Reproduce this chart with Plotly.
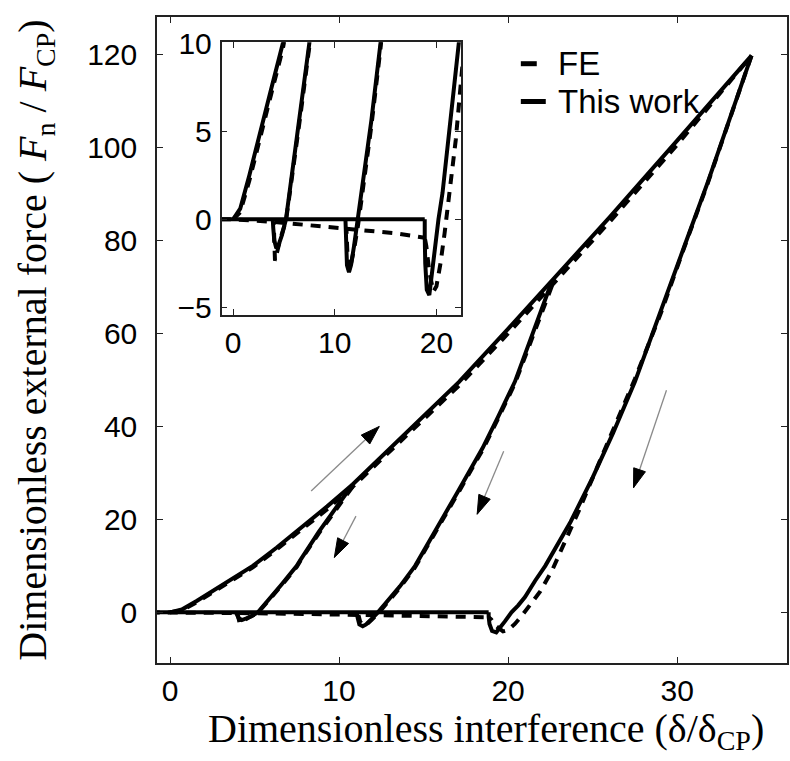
import plotly.graph_objects as go

# ---------------- data ----------------
# "This work" (solid)
tw_base_x = [-1.2, 18.85]
tw_base_y = [0.0, 0.0]
tw_load_x = [0, 0.7, 1.6, 2.6, 3.7, 4.9, 6.3, 7.8, 9.3, 10.8, 13.0, 15.0, 17.1, 20.0, 22.6, 26.0, 30.0, 34.4]
tw_load_y = [0, 0.6, 2.5, 4.7, 7.3, 10.0, 13.9, 18.3, 22.8, 27.5, 35.3, 42.4, 49.6, 61.0, 71.3, 85.0, 101.5, 119.8]
tw_un1_x = [10.8, 9.9, 8.8, 7.7, 7.5, 6.6, 5.9, 5.2, 4.8, 4.45, 4.25, 4.05, 3.95, 3.9]
tw_un1_y = [27.5, 22.9, 17.3, 11.2, 10.0, 6.0, 3.0, 0.0, -0.9, -1.5, -1.65, -1.2, -0.5, 0.0]
tw_un2_x = [22.6, 21.5, 20.4, 19.4, 18.5, 17.0, 15.8, 14.7, 14.5, 13.6, 12.9, 12.3, 11.9, 11.6, 11.4, 11.2, 11.1, 11.05]
tw_un2_y = [71.3, 60.5, 49.6, 42.0, 35.4, 25.8, 18.1, 11.1, 10.0, 5.6, 2.5, 0.0, -1.5, -2.6, -3.0, -2.6, -1.2, 0.0]
tw_un3_x = [34.4, 33.1, 31.8, 30.4, 29.0, 27.5, 26.2, 25.0, 23.7, 22.4, 22.2, 21.6, 21.0, 20.6, 20.2, 19.8, 19.5, 19.3, 19.05, 18.9, 18.85, 18.85]
tw_un3_y = [119.8, 106.2, 92.4, 78.5, 64.3, 49.6, 38.5, 29.0, 19.5, 11.1, 10.0, 6.8, 3.3, 1.5, 0.0, -2.0, -3.6, -4.3, -4.0, -2.5, -1.0, 0.0]

# FE (dashed)
fe_base_x = [-1.2, 0, 4, 8, 12, 16, 18.85]
fe_base_y = [0.0, 0.0, -0.15, -0.35, -0.55, -0.8, -1.05]
fe_load_x = [0, 0.7, 1.6, 2.6, 3.7, 4.9, 6.3, 7.8, 9.3, 10.8, 13.0, 15.0, 17.1, 20.0, 22.6, 26.0, 30.0, 34.4]
fe_load_y = [0, 0.4, 2.2, 4.4, 7.0, 9.7, 13.5, 17.8, 22.2, 27.0, 34.6, 41.6, 48.8, 60.0, 70.3, 84.0, 100.6, 119.8]
fe_un1_x = [10.8, 9.9, 8.8, 7.7, 7.5, 6.6, 5.9, 5.2, 4.7, 4.3, 4.12, 4.05, 4.0]
fe_un1_y = [27.0, 22.6, 17.0, 11.0, 9.8, 5.8, 2.8, -0.1, -1.0, -1.9, -2.35, -1.2, -0.15]
fe_un2_x = [22.6, 21.5, 20.4, 19.4, 18.5, 17.0, 15.8, 14.7, 14.5, 13.6, 12.9, 12.3, 11.9, 11.6, 11.45, 11.25, 11.15]
fe_un2_y = [70.3, 60.0, 49.2, 41.6, 35.0, 25.4, 17.8, 10.8, 9.7, 5.3, 2.2, -0.3, -1.7, -2.7, -2.9, -2.0, -0.6]
fe_un3_x = [34.4, 33.1, 31.8, 30.4, 29.0, 27.5, 26.4, 25.3, 24.2, 23.3, 22.6, 21.9, 21.3, 20.8, 20.4, 20.0, 19.7, 19.3, 19.0, 18.85]
fe_un3_y = [119.8, 106.0, 92.2, 78.3, 64.0, 50.2, 41.0, 31.5, 22.0, 14.5, 9.0, 4.5, 1.5, -0.8, -2.5, -3.8, -4.1, -3.0, -1.5, -1.05]

# direction arrows (tail -> head), data units of main axes
arrow_tail_x = [8.35, 11.0, 19.74, 29.37]
arrow_tail_y = [26.1, 20.7, 34.65, 47.8]
arrow_head_x = [12.38, 9.72, 18.17, 27.42]
arrow_head_y = [40.0, 11.8, 21.1, 26.8]

main_xticks = [0, 10, 20, 30]
main_yticks = [0, 20, 40, 60, 80, 100, 120]
inset_xticks = [0, 10, 20]
inset_yticks = [-5, 0, 5, 10]


def join(*segs):
    xs, ys = [], []
    for sx, sy in segs:
        if xs:
            xs.append(None)
            ys.append(None)
        xs += list(sx)
        ys += list(sy)
    return xs, ys


fe_x, fe_y = join((fe_base_x, fe_base_y), (fe_load_x, fe_load_y), (fe_un1_x, fe_un1_y),
                  (fe_un2_x, fe_un2_y), (fe_un3_x, fe_un3_y))
tw_x, tw_y = join((tw_base_x, tw_base_y), (tw_load_x, tw_load_y), (tw_un1_x, tw_un1_y),
                  (tw_un2_x, tw_un2_y), (tw_un3_x, tw_un3_y))

LW = 4
fig = go.Figure()
for xa, ya in (("x", "y"), ("x2", "y2")):
    fig.add_trace(go.Scatter(x=fe_x, y=fe_y, mode="lines", xaxis=xa, yaxis=ya, name="FE",
                             line=dict(color="black", width=LW, dash="10px,8px"),
                             showlegend=False, hoverinfo="skip"))
    fig.add_trace(go.Scatter(x=tw_x, y=tw_y, mode="lines", xaxis=xa, yaxis=ya, name="This work",
                             line=dict(color="black", width=LW),
                             showlegend=False, hoverinfo="skip"))

# arrows: thin grey shaft + black arrowhead marker at the head
for tx, ty, hx, hy in zip(arrow_tail_x, arrow_tail_y, arrow_head_x, arrow_head_y):
    fig.add_trace(go.Scatter(x=[tx, hx], y=[ty, hy], mode="lines", xaxis="x", yaxis="y",
                             line=dict(color="#8a8a8a", width=1.3),
                             showlegend=False, hoverinfo="skip"))
    fig.add_trace(go.Scatter(x=[tx, hx], y=[ty, hy], mode="markers", xaxis="x", yaxis="y",
                             marker=dict(symbol=["circle", "arrow"], size=[0, 20], color="#000000",
                                         opacity=1, angleref="previous",
                                         line=dict(width=1, color="#000000")),
                             showlegend=False, hoverinfo="skip"))

# manual legend
fig.add_shape(type="line", xref="paper", yref="paper", x0=0.5775, x1=0.6028, y0=0.9277, y1=0.9277,
              line=dict(color="black", width=5))
fig.add_shape(type="line", xref="paper", yref="paper", x0=0.5775, x1=0.6171, y0=0.8692, y1=0.8692,
              line=dict(color="black", width=5))
fig.add_annotation(x=0.633, y=0.9277, xref="paper", yref="paper", text="FE", showarrow=False,
                   xanchor="left", yanchor="middle",
                   font=dict(family="Liberation Sans", size=33, color="black"))
fig.add_annotation(x=0.633, y=0.8692, xref="paper", yref="paper", text="This work", showarrow=False,
                   xanchor="left", yanchor="middle",
                   font=dict(family="Liberation Sans", size=33, color="black"))

# x-axis title (as annotation to allow the slight right offset seen in the reference)
fig.add_annotation(x=0.523, y=-0.106, xref="paper", yref="paper",
                   text="Dimensionless interference (δ/δ<sub>CP</sub>)", showarrow=False,
                   xanchor="center", yanchor="middle",
                   font=dict(family="Liberation Serif", size=40, color="black"))

axis_common = dict(showline=True, linecolor="#222", linewidth=1.5, mirror="ticks",
                   ticks="inside", ticklen=6, tickwidth=1.2, tickcolor="#222",
                   showgrid=False, zeroline=False,
                   tickfont=dict(family="Liberation Sans", size=30, color="black"))

fig.update_layout(
    width=790, height=761,
    margin=dict(l=157, r=1, t=13, b=98),
    paper_bgcolor="white", plot_bgcolor="white",
    xaxis=dict(domain=[0, 1], anchor="y", range=[-0.77, 36.5], tickvals=main_xticks,
               ticklabelstandoff=0, **axis_common),
    yaxis=dict(domain=[0, 1], anchor="x", range=[-10.9, 128.1], tickvals=main_yticks,
               ticklabelstandoff=12,
               title=dict(text="Dimensionless external force ( <i>F</i><sub>n</sub> / <i>F</i><sub>CP</sub>)",
                          standoff=28,
                          font=dict(family="Liberation Serif", size=40, color="black")),
               **axis_common),
    xaxis2=dict(domain=[0.1024, 0.4826], anchor="y2", range=[-1.14, 22.42], tickvals=inset_xticks,
                ticklabelstandoff=0, **axis_common),
    yaxis2=dict(domain=[0.5385, 0.961], anchor="x2", range=[-5.44, 10.05], tickvals=inset_yticks,
                ticklabelstandoff=2, **axis_common),
)

fig.write_html("out.html")
